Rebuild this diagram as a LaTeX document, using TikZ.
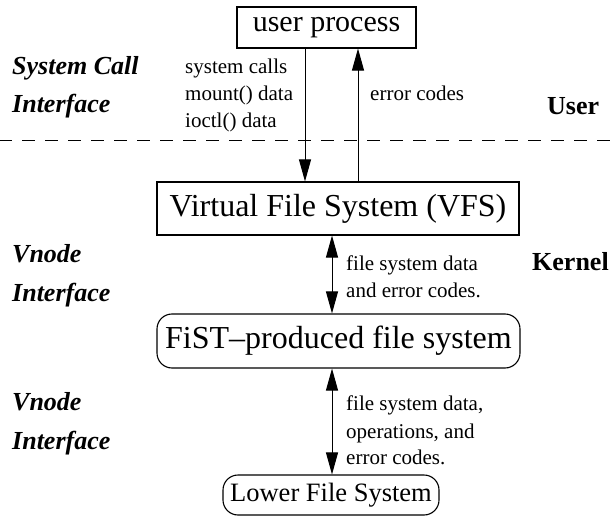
\documentclass[tikz,border=0pt]{standalone}
\usepackage{fontspec}
\setmainfont{Liberation Serif}
\usetikzlibrary{arrows.meta}
\begin{document}
\begin{tikzpicture}[x=1pt,y=-1pt,
  box/.style={draw,line width=1.1pt,inner sep=0pt,font=\fontsize{32}{32}\selectfont},
  arr/.style={line width=1pt,-{Triangle[length=22pt,width=12pt]}},
  darr/.style={line width=1pt,{Triangle[length=22pt,width=12pt]}-{Triangle[length=22pt,width=12pt]}},
  lab/.style={inner sep=0pt,anchor=base west,font=\fontsize{26}{26}\selectfont\bfseries\itshape},
  side/.style={inner sep=0pt,anchor=base west,font=\fontsize{26}{26}\selectfont\bfseries},
  sm/.style={inner sep=0pt,anchor=base west,font=\fontsize{21}{21}\selectfont}]
\useasboundingbox (0,0) rectangle (616,516);
\node[box, minimum width=179pt, minimum height=41pt, font=\fontsize{30}{30}\selectfont] (up) at (326.5,27.5) {user process};
\node[box, minimum width=362pt, minimum height=53pt] (vfs) at (338,208.5) {Virtual File System (VFS)};
\node[box, rounded corners=15pt, minimum width=363pt, minimum height=54pt] (fist) at (338.5,341) {FiST--produced file system};
\node[box, rounded corners=15pt, minimum width=216pt, minimum height=40pt, font=\fontsize{26.5}{26.5}\selectfont] (low) at (331,495) {Lower File System};
\coordinate (xd) at (305,0);
\coordinate (xu) at (358,0);
\coordinate (xm) at (332,0);
\draw[arr] (up.south -| xd) -- (vfs.north -| xd);
\draw[arr] (vfs.north -| xu) -- (up.south -| xu);
\draw[darr] (vfs.south -| xm) -- (fist.north -| xm);
\draw[darr] (fist.south -| xm) -- (low.north -| xm);
\coordinate (dl) at (0,140.5);
\coordinate (dr) at (616,140.5);
\draw[line width=1pt, dash pattern=on 13pt off 10pt, dash phase=1pt] (dl) -- (dr);
\node[lab] (sc1) at (12,75) {System Call};
\node[lab] (sc2) at (12,113) {Interface};
\node[lab] (vn1) at (12,262) {Vnode};
\node[lab] (vi1) at (12,301) {Interface};
\node[lab] (vn2) at (12,410) {Vnode};
\node[lab] (vi2) at (12,449) {Interface};
\node[side] (user) at (547,115) {User};
\node[side] (kern) at (532,270) {Kernel};
\node[sm] (t1) at (185,74) {system calls};
\node[sm] (t2) at (185,101) {mount() data};
\node[sm] (t3) at (185,128) {ioctl() data};
\node[sm] (t4) at (370,101) {error codes};
\node[sm] (t5) at (346,270) {file system data};
\node[sm] (t6) at (346,297) {and error codes.};
\node[sm] (t7) at (346,410) {file system data,};
\node[sm] (t8) at (346,438) {operations, and};
\node[sm] (t9) at (346,464) {error codes.};
\end{tikzpicture}
\end{document}
